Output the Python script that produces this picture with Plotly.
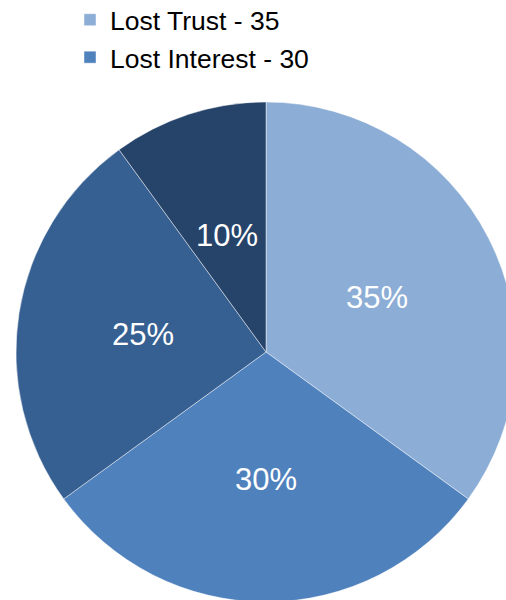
import math
import plotly.graph_objects as go

categories = ["Lost Trust", "Lost Interest", "Found Alternative", "Other"]
values = [35, 30, 25, 10]
colors = ["#8CADD5", "#4F81BD", "#376092", "#26436A"]

labels = [f"{c} - {v}" for c, v in zip(categories, values)]

W, H = 520, 604
# pie placement (pixels)
CX, CY, R = 266, 352, 250

fig = go.Figure(go.Pie(
    labels=labels,
    values=values,
    sort=False,
    direction="clockwise",
    rotation=0,
    marker=dict(colors=colors, line=dict(color="rgba(255,255,255,0.45)", width=1)),
    textinfo="none",
    hoverinfo="none",
    domain=dict(x=[(CX - R) / W, (CX + R) / W], y=[(H - CY - R) / H, (H - CY + R) / H]),
))

# percentage labels at half radius along each slice's mid angle
total = sum(values)
cum = 0
annotations = []
for v in values:
    theta = 2 * math.pi * (cum + v / 2) / total
    cum += v
    px = CX + math.sin(theta) * 0.5 * R
    py = CY - math.cos(theta) * 0.5 * R
    annotations.append(dict(
        x=px / W, y=(H - py) / H, xref="paper", yref="paper",
        text=f"{round(100 * v / total)}%", showarrow=False,
        xanchor="center", yanchor="middle", yshift=-2,
        font=dict(family="Liberation Sans, Arial", size=31, color="white"),
    ))

fig.update_layout(
    width=W,
    height=H,
    margin=dict(l=0, r=0, t=0, b=0, autoexpand=False),
    paper_bgcolor="white",
    showlegend=True,
    annotations=annotations,
    legend=dict(
        x=70 / W, xanchor="left",
        y=1 + 4 / H, yanchor="top",
        font=dict(family="Liberation Sans, Arial", size=26.5, color="black"),
        maxheight=82,
        bgcolor="rgba(0,0,0,0)",
        itemclick=False, itemdoubleclick=False,
    ),
)

post = (
    "document.body.style.margin='0';"
    "document.body.style.overflow='hidden';"
    "document.querySelectorAll('.scrollbar').forEach(function(e){e.style.display='none';});"
)
fig.write_html("out.html", post_script=post, config={"displayModeBar": False})
